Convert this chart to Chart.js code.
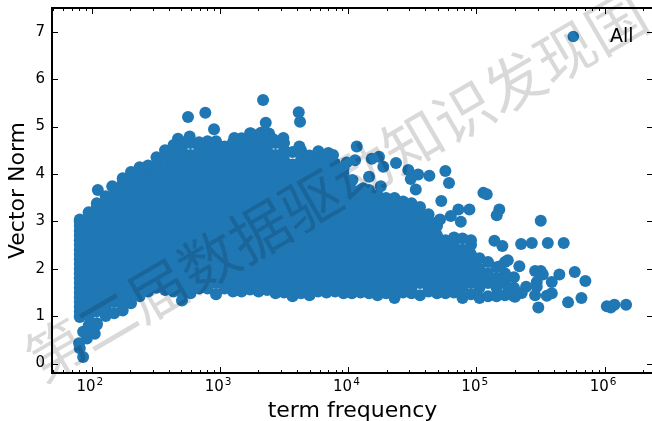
<!DOCTYPE html>
<html>
<head>
<meta charset="utf-8">
<script src="https://cdn.jsdelivr.net/npm/chart.js@4"></script>
<style>
    html, body { margin: 0; padding: 0; width: 652px; height: 421px; overflow: hidden; background: #fff; }
    canvas { display: block; }
</style>
</head>
<body>
<canvas id="chartNorm" width="653" height="421"></canvas>
<script>
// ── Data ────────────────────────────────────────────────
const seriesLabel = 'All';
const xLabel = 'term frequency';
const yLabel = 'Vector Norm';
const watermark = '第二届数据驱动知识发现国';

const yTicks = [0, 1, 2, 3, 4, 5, 6, 7];
const xMajorTicks = [100, 1000, 10000, 100000, 1000000];
const xTickExponents = ['2', '3', '4', '5', '6'];
const xMinorTicks = [
    50, 60, 70, 80, 90,
    200, 300, 400, 500, 600, 700, 800, 900,
    2000, 3000, 4000, 5000, 6000, 7000, 8000, 9000,
    20000, 30000, 40000, 50000, 60000, 70000, 80000, 90000,
    200000, 300000, 400000, 500000, 600000, 700000, 800000, 900000,
    2000000,
];

// dense body of the cloud, one list of norms per frequency column
const columnFreqs = [
    81, 95, 110, 129, 150, 175, 203, 237, 276, 321, 374, 436, 507,
    591, 689, 802, 934, 1088, 1267, 1476, 1720, 2003, 2333, 2717, 3165, 3686,
    4293, 5000, 5824, 6783, 7900, 9201, 10700, 12500, 14550, 16950, 19740, 22990, 26780,
    31190, 36330, 42310, 49280, 57400, 66850, 77860, 90680, 105600, 123000, 143300, 167000, 196000,
];
const columnNorms = [
    [.98,1,1.1,1.2,1.3,1.4,1.5,1.6,1.7,1.8,1.9,2,2.1,2.2,2.3,2.4,2.5,2.6,2.7,2.8,2.9,3,3.04],
    [.62,.8,1,1.2,1.4,1.6,1.8,2,2.2,2.4,2.6,2.8,3,3.19],
    [.85,1.1,1.3,1.5,1.7,1.9,2.1,2.3,2.5,2.7,2.9,3.1,3.3,3.38],
    [1,1.2,1.4,1.6,1.8,2,2.2,2.4,2.6,2.8,3,3.2,3.4,3.53],
    [1.06,1.3,1.5,1.7,1.9,2.1,2.3,2.5,2.7,2.9,3.1,3.3,3.5,3.7],
    [1.12,1.2,1.4,1.6,1.8,2,2.2,2.4,2.6,2.8,3,3.2,3.4,3.6,3.8,3.91],
    [1.27,1.5,1.7,1.9,2.1,2.3,2.5,2.7,2.9,3.1,3.3,3.5,3.7,3.9,4.04],
    [1.42,1.6,1.8,2,2.2,2.4,2.6,2.8,3,3.2,3.4,3.6,3.8,4,4.14],
    [1.52,1.7,1.9,2.1,2.3,2.5,2.7,2.9,3.1,3.3,3.5,3.7,3.9,4.1,4.18],
    [1.6,1.8,2,2.2,2.4,2.6,2.8,3,3.2,3.4,3.6,3.8,4,4.2,4.35],
    [1.55,1.7,1.9,2.1,2.3,2.5,2.7,2.9,3.1,3.3,3.5,3.7,3.9,4.1,4.3,4.5],
    [1.52,1.6,1.8,2,2.2,2.4,2.6,2.8,3,3.2,3.4,3.6,3.8,4,4.2,4.4,4.61],
    [1.33,1.5,1.7,1.9,2.1,2.3,2.5,2.7,2.9,3.1,3.3,3.5,3.7,3.9,4.1,4.3,4.5,4.67],
    [1.48,1.6,1.8,2,2.2,2.4,2.6,2.8,3,3.2,3.4,3.6,3.8,4,4.2,4.4,4.65],
    [1.58,1.7,1.9,2.1,2.3,2.5,2.7,2.9,3.1,3.3,3.5,3.7,3.9,4.1,4.3,4.5,4.67],
    [1.58,1.8,2,2.2,2.4,2.6,2.8,3,3.2,3.4,3.6,3.8,4,4.2,4.4,4.6,4.69],
    [1.46,1.7,1.9,2.1,2.3,2.5,2.7,2.9,3.1,3.3,3.5,3.7,3.9,4.1,4.3,4.5,4.69],
    [1.58,1.8,2,2.2,2.4,2.6,2.8,3,3.2,3.4,3.6,3.8,4,4.2,4.4,4.58],
    [1.52,1.7,1.9,2.1,2.3,2.5,2.7,2.9,3.1,3.3,3.5,3.7,3.9,4.1,4.3,4.5,4.67],
    [1.52,1.6,1.8,2,2.2,2.4,2.6,2.8,3,3.2,3.4,3.6,3.8,4,4.2,4.4,4.6,4.75],
    [1.56,1.7,1.9,2.1,2.3,2.5,2.7,2.9,3.1,3.3,3.5,3.7,3.9,4.1,4.3,4.5,4.7,4.86],
    [1.52,1.6,1.8,2,2.2,2.4,2.6,2.8,3,3.2,3.4,3.6,3.8,4,4.2,4.4,4.6,4.82],
    [1.55,1.7,1.9,2.1,2.3,2.5,2.7,2.9,3.1,3.3,3.5,3.7,3.9,4.1,4.3,4.5,4.7,4.84],
    [1.48,1.6,1.8,2,2.2,2.4,2.6,2.8,3,3.2,3.4,3.6,3.8,4,4.2,4.4,4.65],
    [1.5,1.7,1.9,2.1,2.3,2.5,2.7,2.9,3.1,3.3,3.5,3.7,3.9,4.1,4.3,4.5,4.65],
    [1.42,1.6,1.8,2,2.2,2.4,2.6,2.8,3,3.2,3.4,3.6,3.8,4,4.2,4.46],
    [1.48,1.7,1.9,2.1,2.3,2.5,2.7,2.9,3.1,3.3,3.5,3.7,3.9,4.1,4.3,4.5],
    [1.44,1.6,1.8,2,2.2,2.4,2.6,2.8,3,3.2,3.4,3.6,3.8,4,4.2,4.39],
    [1.52,1.7,1.9,2.1,2.3,2.5,2.7,2.9,3.1,3.3,3.5,3.7,3.9,4.1,4.3,4.44],
    [1.5,1.6,1.8,2,2.2,2.4,2.6,2.8,3,3.2,3.4,3.6,3.8,4,4.2,4.39],
    [1.52,1.7,1.9,2.1,2.3,2.5,2.7,2.9,3.1,3.3,3.5,3.7,3.9,4.1,4.22],
    [1.48,1.6,1.8,2,2.2,2.4,2.6,2.8,3,3.2,3.4,3.6,3.8,4,4.12],
    [1.48,1.7,1.9,2.1,2.3,2.5,2.7,2.9,3.1,3.3,3.5,3.66],
    [1.5,1.6,1.8,2,2.2,2.4,2.6,2.8,3,3.2,3.4,3.6,3.66],
    [1.48,1.7,1.9,2.1,2.3,2.5,2.7,2.9,3.1,3.3,3.5,3.66],
    [1.44,1.6,1.8,2,2.2,2.4,2.6,2.8,3,3.2,3.4,3.55],
    [1.48,1.7,1.9,2.1,2.3,2.5,2.7,2.9,3.1,3.3,3.49],
    [1.38,1.6,1.8,2,2.2,2.4,2.6,2.8,3,3.2,3.4,3.49],
    [1.5,1.7,1.9,2.1,2.3,2.5,2.7,2.9,3.1,3.3,3.42],
    [1.48,1.6,1.8,2,2.2,2.4,2.6,2.8,3,3.2,3.38],
    [1.44,1.7,1.9,2.1,2.3,2.5,2.7,2.9,3.1,3.3],
    [1.52,1.6,1.8,2,2.2,2.4,2.6,2.8,3,3.15],
    [1.48,1.7,1.9,2.1,2.3,2.5,2.7,2.9,2.98],
    [1.48,1.6,1.8,2,2.2,2.4,2.6],
    [1.5,1.7,1.9,2.1,2.3,2.5,2.66],
    [1.38,1.6,1.8,2,2.2,2.4,2.64],
    [1.46,1.7,1.9,2.1,2.3,2.5,2.6],
    [1.38,1.6,1.8,2,2.22],
    [1.42,1.7,1.9,2.14],
    [1.42,1.6,1.8,2.03],
    [1.44,1.7,1.9,2.14],
    [1.42,1.6,1.82],
];

// points that stand clear of the body, read one by one
const looseFreqs = [
    86, 81, 80, 86, 106, 110, 92,
    112, 145, 472, 582, 565, 771, 901, 1297, 1750, 2094, 2172, 2280, 2417, 2612, 3126,
    4120, 4217, 4168, 5860, 7010, 7626, 11670, 9750, 11320, 15280, 17400, 23600, 18800, 29450,
    35100, 30760, 42950, 57250, 61100, 33650, 53200, 113200, 120200, 17950, 10800, 14550, 13060,
    150700, 143900, 88100, 72300, 63100, 75500, 52000, 317000,
    138000, 159200, 222800, 270000, 359700, 478700,
    175400, 215900, 152800, 286400, 317000, 328900, 442600, 583400, 386300, 706300,
    243800, 225400, 295100, 295100, 286400, 353200, 386300, 200000, 177400,
    657700, 517600, 303400, 1038000, 1114000, 1189000, 1466000,
];
const looseNorms = [
    .14, .32, .43, .67, .63, .82, .53,
    3.66, 3.74, 4.74, 4.79, 5.2, 5.29, 4.94, 4.76, 4.85, 4.87, 5.56, 5.08, 4.85, 4.73, 4.76,
    5.3, 5.1, 4.58, 4.48, 4.44, 4.4, 4.58, 4.24, 4.29, 4.32, 4.36, 4.23, 4.15, 4.08,
    3.99, 3.89, 3.96, 4.06, 3.81, 3.67, 3.43, 3.6, 3.57, 3.74, 3.87, 3.94, 3.7,
    3.25, 3.13, 3.25, 3.25, 3.11, 2.99, 3.04, 3.01,
    2.59, 2.48, 2.52, 2.54, 2.54, 2.54,
    2.18, 2.05, 2.05, 1.95, 1.95, 1.88, 1.88, 1.93, 1.72, 1.74,
    1.62, 1.49, 1.72, 1.62, 1.44, 1.43, 1.48, 1.41, 1.58,
    1.38, 1.29, 1.18, 1.21, 1.18, 1.24, 1.24,
];

// ── Build points ────────────────────────────────────────
const points = [];
columnFreqs.forEach((f, i) => columnNorms[i].forEach(n => points.push({ x: f, y: n })));
looseFreqs.forEach((f, i) => points.push({ x: f, y: looseNorms[i] }));

const BLUE = '#1f77b4';
const TICK_FONT = '15px "DejaVu Sans"';

// ── Inward ticks, frame, x labels, legend, watermark ────
const decorations = {
    id: 'decorations',
    afterDraw(chart) {
        const { ctx, chartArea: a, scales: { x, y } } = chart;
        ctx.save();
        ctx.strokeStyle = '#000';
        ctx.lineWidth = 1;

        const vTick = (v, len) => {
            const px = Math.round(x.getPixelForValue(v)) + 0.5;
            ctx.beginPath();
            ctx.moveTo(px, a.bottom); ctx.lineTo(px, a.bottom - len);
            ctx.moveTo(px, a.top);    ctx.lineTo(px, a.top + len);
            ctx.stroke();
        };
        xMajorTicks.forEach(v => vTick(v, 6));
        xMinorTicks.forEach(v => vTick(v, 3));
        yTicks.forEach(v => {
            const py = Math.round(y.getPixelForValue(v)) + 0.5;
            ctx.beginPath();
            ctx.moveTo(a.left, py);  ctx.lineTo(a.left + 6, py);
            ctx.moveTo(a.right, py); ctx.lineTo(a.right - 6, py);
            ctx.stroke();
        });

        ctx.lineWidth = 2;
        ctx.strokeRect(a.left, a.top, a.right - a.left, a.bottom - a.top);

        // 10^n labels
        ctx.fillStyle = '#000';
        ctx.textBaseline = 'alphabetic';
        xMajorTicks.forEach((v, i) => {
            const px = x.getPixelForValue(v);
            ctx.font = TICK_FONT;
            ctx.textAlign = 'right';
            ctx.fillText('10', px + 4, 391);
            ctx.font = '10.5px "DejaVu Sans"';
            ctx.textAlign = 'left';
            ctx.fillText(xTickExponents[i], px + 5, 385);
        });

        // legend
        ctx.fillStyle = BLUE;
        ctx.beginPath();
        ctx.arc(573.3, 36.5, 5.8, 0, Math.PI * 2);
        ctx.fill();
        ctx.fillStyle = '#000';
        ctx.font = '19px "DejaVu Sans"';
        ctx.textAlign = 'left';
        ctx.fillText(chart.data.datasets[0].label, 610, 42);

        // watermark
        ctx.translate(336, 186);
        ctx.rotate(-30.3 * Math.PI / 180);
        ctx.fillStyle = 'rgba(0,0,0,0.15)';
        ctx.font = '59px "Noto Sans CJK SC"';
        ctx.textAlign = 'center';
        ctx.textBaseline = 'middle';
        ctx.fillText(watermark, 0, 0);
        ctx.restore();
    },
};

// ── Chart ───────────────────────────────────────────────
new Chart(document.getElementById('chartNorm').getContext('2d'), {
    type: 'scatter',
    data: {
        datasets: [{
            label:           seriesLabel,
            data:            points,
            backgroundColor: BLUE,
            borderWidth:     0,
            pointRadius:     6,
            pointHoverRadius: 6,
        }],
    },
    options: {
        responsive: false,
        animation:  false,
        layout: { autoPadding: false, padding: { top: 8, right: 0, left: 0, bottom: 0 } },
        plugins: {
            legend:  { display: false },
            tooltip: { enabled: false },
        },
        scales: {
            x: {
                type: 'logarithmic',
                min: 49.2,
                max: 2376000,
                grid:   { display: false },
                border: { display: false },
                ticks:  { display: false },
                title: {
                    display: true,
                    text: xLabel,
                    color: '#000',
                    font: { family: 'DejaVu Sans', size: 22 },
                    padding: { top: 0, bottom: -3 },
                },
                afterFit: scale => { scale.height = 48; },
            },
            y: {
                min: -0.2,
                max: 7.5,
                afterBuildTicks: scale => { scale.ticks = yTicks.map(v => ({ value: v })); },
                grid:   { display: false, drawTicks: false },
                border: { display: false },
                ticks: {
                    color: '#000',
                    font: { family: 'DejaVu Sans', size: 15 },
                    padding: 7,
                    callback: v => String(v),
                },
                title: {
                    display: true,
                    text: yLabel,
                    color: '#000',
                    font: { family: 'DejaVu Sans', size: 22 },
                    padding: { top: 5, bottom: 0 },
                },
                afterFit: scale => {
                    scale.width = 52;
                    scale.paddingTop = 0;
                    scale.paddingBottom = 0;
                },
            },
        },
    },
    plugins: [decorations],
});
</script>
</body>
</html>
